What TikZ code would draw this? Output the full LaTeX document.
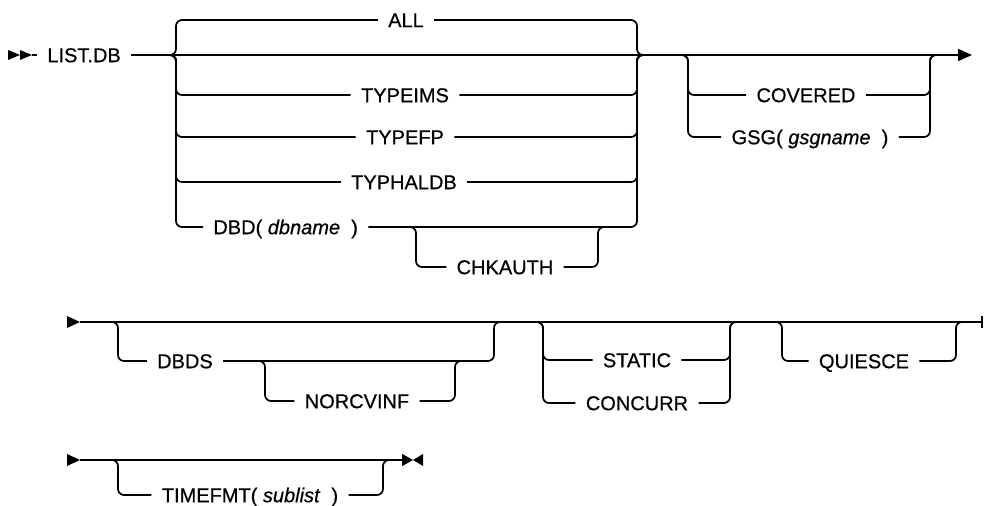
\documentclass[tikz,border=0pt]{standalone}
\usepackage{fontspec}
\setmainfont{Liberation Sans}[UprightFeatures={FakeBold=0.6}, ItalicFeatures={FakeBold=0.6}]
\usetikzlibrary{arrows.meta}

\begin{document}
\begin{tikzpicture}[x=0.5pt, y=-0.5pt,
    rail/.style={line width=0.85pt, rounded corners=3pt},
    kw/.style={inner xsep=5pt, inner ysep=0pt, text height=7.2pt, text depth=0pt, font=\fontsize{10}{12}\selectfont}]
    \useasboundingbox (0,0) rectangle (985,506);

    % first line
    \fill (8,50) -- (20,55) -- (8,60) -- cycle;
    \fill (20,50) -- (32,55) -- (20,60) -- cycle;
    \coordinate (start1) at (32,55);
    \coordinate (end1) at (972,55);
    \node[kw, anchor=west] (listdb) at (37,55) {LIST.DB};
    \draw[rail] (start1) -- (listdb.west);
    \draw[rail, -{Triangle[length=7pt, width=6pt]}] (listdb.east) -- (end1);

    \coordinate (g1l) at (176,55);
    \coordinate (g1r) at (637,55);
    \node[kw] (all) at (406,20) {ALL};
    \node[kw] (typeims) at (405,95) {TYPEIMS};
    \node[kw] (typefp) at (405,137) {TYPEFP};
    \node[kw] (typhaldb) at (404,182) {TYPHALDB};
    \node[kw, anchor=west] (dbd) at (203,227) {DBD( \textit{dbname}\ \ )};
    \draw[rail] ([xshift=-3pt]g1l) -- (g1l) |- (all.west);
    \draw[rail] (all.east) -| (g1r) -- ([xshift=3pt]g1r);
    \draw[rail] ([xshift=-3pt]g1l) -- (g1l) |- (typeims.west);
    \draw[rail] (typeims.east) -| (g1r) -- ([xshift=3pt]g1r);
    \draw[rail] ([xshift=-3pt]g1l) -- (g1l) |- (typefp.west);
    \draw[rail] (typefp.east) -| (g1r) -- ([xshift=3pt]g1r);
    \draw[rail] ([xshift=-3pt]g1l) -- (g1l) |- (typhaldb.west);
    \draw[rail] (typhaldb.east) -| (g1r) -- ([xshift=3pt]g1r);
    \draw[rail] ([xshift=-3pt]g1l) -- (g1l) |- (dbd.west);
    \draw[rail] (dbd.east) -| (g1r) -- ([xshift=3pt]g1r);

    \coordinate (c1l) at (416,227);
    \coordinate (c1r) at (598,227);
    \node[kw] (chkauth) at (505,267) {CHKAUTH};
    \draw[rail] ([xshift=-3pt]c1l) -- (c1l) |- (chkauth.west);
    \draw[rail] (chkauth.east) -| (c1r) -- ([xshift=3pt]c1r);

    \coordinate (g2l) at (688,55);
    \coordinate (g2r) at (930,55);
    \node[kw] (covered) at (806,95) {COVERED};
    \node[kw] (gsg) at (810,137) {GSG( \textit{gsgname}\ \ )};
    \draw[rail] ([xshift=-3pt]g2l) -- (g2l) |- (covered.west);
    \draw[rail] (covered.east) -| (g2r) -- ([xshift=3pt]g2r);
    \draw[rail] ([xshift=-3pt]g2l) -- (g2l) |- (gsg.west);
    \draw[rail] (gsg.east) -| (g2r) -- ([xshift=3pt]g2r);

    % second line
    \fill (67,316) -- (80,322) -- (67,328) -- cycle;
    \coordinate (start2) at (80,322);
    \coordinate (end2) at (983,322);
    \draw[rail, -{Bar[width=6pt]}] (start2) -- (end2);

    \coordinate (g3l) at (118,322);
    \coordinate (g3r) at (494,322);
    \node[kw] (dbds) at (185,361) {DBDS};
    \draw[rail] ([xshift=-3pt]g3l) -- (g3l) |- (dbds.west);
    \draw[rail] (dbds.east) -| (g3r) -- ([xshift=3pt]g3r);

    \coordinate (c2l) at (265,361);
    \coordinate (c2r) at (455,361);
    \node[kw] (norcvinf) at (357,401) {NORCVINF};
    \draw[rail] ([xshift=-3pt]c2l) -- (c2l) |- (norcvinf.west);
    \draw[rail] (norcvinf.east) -| (c2r) -- ([xshift=3pt]c2r);

    \coordinate (g4l) at (543,322);
    \coordinate (g4r) at (730,322);
    \node[kw] (static) at (637,360) {STATIC};
    \node[kw] (concurr) at (637,403) {CONCURR};
    \draw[rail] ([xshift=-3pt]g4l) -- (g4l) |- (static.west);
    \draw[rail] (static.east) -| (g4r) -- ([xshift=3pt]g4r);
    \draw[rail] ([xshift=-3pt]g4l) -- (g4l) |- (concurr.west);
    \draw[rail] (concurr.east) -| (g4r) -- ([xshift=3pt]g4r);

    \coordinate (g5l) at (782,322);
    \coordinate (g5r) at (956,322);
    \node[kw] (quiesce) at (864,361) {QUIESCE};
    \draw[rail] ([xshift=-3pt]g5l) -- (g5l) |- (quiesce.west);
    \draw[rail] (quiesce.east) -| (g5r) -- ([xshift=3pt]g5r);

    % third line
    \fill (67,454) -- (80,460) -- (67,466) -- cycle;
    \coordinate (start3) at (80,460);
    \coordinate (end3) at (413,460);
    \draw[rail, -{Triangle[length=5.5pt, width=6pt]}] (start3) -- (end3);
    \fill (end3) -- (423,454) -- (423,466) -- cycle;

    \coordinate (g6l) at (118,460);
    \coordinate (g6r) at (383,460);
    \node[kw] (timefmt) at (250,495) {TIMEFMT( \textit{sublist}\ \ )};
    \draw[rail] ([xshift=-3pt]g6l) -- (g6l) |- (timefmt.west);
    \draw[rail] (timefmt.east) -| (g6r) -- ([xshift=3pt]g6r);
\end{tikzpicture}
\end{document}
